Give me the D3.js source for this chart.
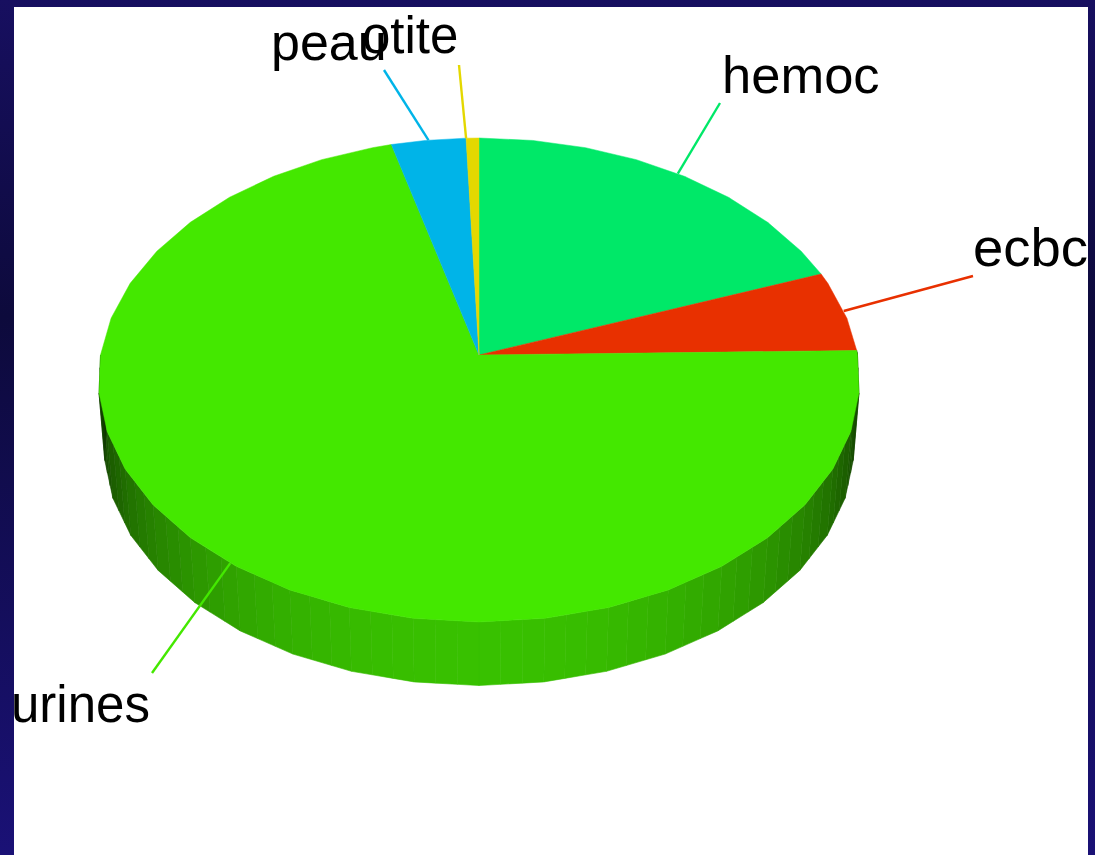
<!DOCTYPE html>
<html>
<head>
<meta charset="utf-8">
<script src="https://cdn.jsdelivr.net/npm/d3@7"></script>
<style>
  html, body { margin: 0; padding: 0; background: #fff; }
  svg { display: block; }
  text { font-family: "Liberation Sans", Arial, sans-serif; fill: #000; }
</style>
</head>
<body>
<div class="canvas"></div>
<script>
// values (percent, clockwise from 12 o'clock)
const categories = ['hemoc', 'ecbc', 'urines', 'peau', 'otite'];
const shares = [19.3, 5.4, 71.2, 3.5, 0.6];
const sliceColors = ['#00e868', '#e83000', '#44e800', '#00b4e8', '#e4d800'];

const width = 1095;
const height = 855;

// where each label sits, and where its leader line stops
// otite's line leaves from the edge of its slice, not the middle
const labelLayout = {
    hemoc:  {x: 722, y: 93, size: 52.5, lineX: 720, lineY: 103},
    ecbc:   {x: 973, y: 266, size: 54.5, lineX: 973, lineY: 276},
    urines: {x: 11, y: 722, size: 51, lineX: 152, lineY: 673},
    peau:   {x: 271, y: 60, size: 52, lineX: 384, lineY: 70},
    otite:  {x: 362, y: 53, size: 51, lineX: 459, lineY: 65, fromEdge: true}
};

const svg = d3.select('.canvas')
    .append('svg')
    .attr('width', width)
    .attr('height', height);

// navy slide background with the white panel on top
const defs = svg.append('defs');
const bg = defs.append('linearGradient')
    .attr('id', 'bg')
    .attr('x1', 0).attr('x2', 0).attr('y1', 0).attr('y2', 1);
bg.append('stop').attr('offset', '0%').attr('stop-color', '#170f60');
bg.append('stop').attr('offset', '37%').attr('stop-color', '#0d0a3c');
bg.append('stop').attr('offset', '100%').attr('stop-color', '#1a1176');

defs.append('clipPath').attr('id', 'panel')
    .append('rect')
    .attr('x', 14).attr('y', 7)
    .attr('width', 1074).attr('height', 848);

svg.append('rect')
    .attr('width', width).attr('height', height)
    .attr('fill', 'url(#bg)');
svg.append('rect')
    .attr('x', 14).attr('y', 7)
    .attr('width', 1074).attr('height', 848)
    .attr('fill', '#fff');

const chart = svg.append('g').attr('clip-path', 'url(#panel)');

// perspective view of the disc: apex at (479,355), nearer side drawn bigger
const apex = {x: 479, y: 355};
const scaleX = 378.5;
const scaleY = 239.4;
const tilt = 0.1033;

const project = (angle, r = 1, drop = 0) => {
    const u = Math.sin(angle) * r;
    const v = -Math.cos(angle) * r;
    const k = 1 / (1 - tilt * v);
    return [apex.x + scaleX * u * k, apex.y + drop + scaleY * v * k];
};

const pie = d3.pie().sort(null).value(d => d)
    .startAngle(0).endAngle(2 * Math.PI);
const arcs = pie(shares);

const deg = Math.PI / 180;
const rimStep = 9 * deg;
const wallBands = 3;
const wallScale = 0.985;
const wallDrop = 68;

const line = d3.line();

// corner points of the faceted rim inside one slice
const rimAngles = (a0, a1) => {
    const out = [a0];
    let a = rimStep;
    while (a < a1) {
        if (a > a0) out.push(a);
        a += rimStep;
    }
    out.push(a1);
    return out;
};

// point part way along a rim chord
const along = (p, q, t) => [p[0] + (q[0] - p[0]) * t, p[1] + (q[1] - p[1]) * t];

// side wall, only the part that faces the viewer
const shade = a => 0.2 + 0.63 * Math.cos(a - Math.PI);
const wall = chart.append('g');
arcs.forEach((d, i) => {
    const c = d3.color(sliceColors[i]);
    d3.pairs(rimAngles(d.startAngle, d.endAngle)).forEach(([a0, a1]) => {
        if (Math.cos((a0 + a1) / 2) > 0.05) return;
        const top0 = project(a0);
        const top1 = project(a1);
        const bot0 = project(a0, wallScale, wallDrop);
        const bot1 = project(a1, wallScale, wallDrop);
        // each facet is split in narrow bands, like the rendered original
        d3.range(wallBands).forEach(b => {
            const t0 = b / wallBands;
            const t1 = (b + 1) / wallBands;
            const s = shade(a0 + (a1 - a0) * (t0 + t1) / 2);
            const fill = d3.rgb(c.r * s, c.g * s, c.b * s);
            wall.append('path')
                .attr('d', line([along(top0, top1, t0), along(top0, top1, t1),
                    along(bot0, bot1, t1), along(bot0, bot1, t0)]) + 'Z')
                .attr('fill', fill)
                .attr('stroke', fill)
                .attr('stroke-width', 0.6);
        });
    });
});

// top of the pie
chart.append('g').selectAll('path')
    .data(arcs)
    .enter()
    .append('path')
    .attr('d', d => {
        const rim = rimAngles(d.startAngle, d.endAngle).map(a => project(a));
        return line([[apex.x, apex.y], ...rim]) + 'Z';
    })
    .attr('fill', (d, i) => sliceColors[i])
    .attr('stroke', (d, i) => sliceColors[i])
    .attr('stroke-width', 0.5);

// leader lines start at the middle of each slice's rim
const lineStart = (d, i) => labelLayout[categories[i]].fromEdge
    ? project(d.startAngle)
    : project((d.startAngle + d.endAngle) / 2);

chart.append('g').selectAll('line')
    .data(arcs)
    .enter()
    .append('line')
    .attr('x1', (d, i) => lineStart(d, i)[0])
    .attr('y1', (d, i) => lineStart(d, i)[1])
    .attr('x2', (d, i) => labelLayout[categories[i]].lineX)
    .attr('y2', (d, i) => labelLayout[categories[i]].lineY)
    .attr('stroke', (d, i) => sliceColors[i])
    .attr('stroke-width', 2.4);

chart.append('g').selectAll('text')
    .data(categories)
    .enter()
    .append('text')
    .attr('x', d => labelLayout[d].x)
    .attr('y', d => labelLayout[d].y)
    .attr('font-size', d => labelLayout[d].size + 'px')
    .text(d => d);
</script>
</body>
</html>
